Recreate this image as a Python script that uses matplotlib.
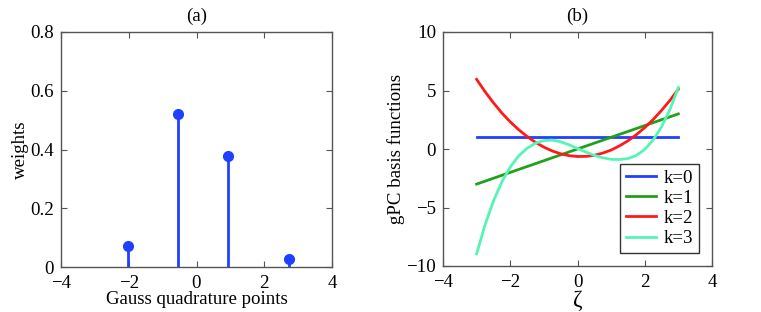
import numpy as np
import matplotlib
matplotlib.use("Agg")
import matplotlib.pyplot as plt

plt.rcParams['font.family'] = ['Liberation Serif', 'DejaVu Serif']
plt.rcParams['mathtext.fontset'] = 'stix'

# Panel (a): Gauss quadrature points and weights
quad_points = [-2.03, -0.56, 0.94, 2.73]
quad_weights = [0.073, 0.521, 0.378, 0.027]

# Panel (b): gPC basis functions
zeta = [-3.0, -2.75, -2.5, -2.25, -2.0, -1.75, -1.5, -1.25, -1.0, -0.75, -0.5, -0.25,
        0.0, 0.25, 0.5, 0.75, 1.0, 1.25, 1.5, 1.75, 2.0, 2.25, 2.5, 2.75, 3.0]
k0 = [1.0] * 25
k1 = [-3.0, -2.75, -2.5, -2.25, -2.0, -1.75, -1.5, -1.25, -1.0, -0.75, -0.5, -0.25,
      0.0, 0.25, 0.5, 0.75, 1.0, 1.25, 1.5, 1.75, 2.0, 2.25, 2.5, 2.75, 3.0]
k2 = [5.95, 4.9, 3.95, 3.08, 2.32, 1.65, 1.07, 0.57, 0.16, -0.17, -0.41, -0.57,
      -0.64, -0.63, -0.54, -0.35, -0.09, 0.27, 0.70, 1.22, 1.83, 2.52, 3.30, 4.16, 5.11]
k3 = [-8.96, -6.48, -4.45, -2.81, -1.54, -0.59, 0.06, 0.50, 0.72, 0.76, 0.62, 0.36,
      0.04, -0.26, -0.54, -0.75, -0.88, -0.90, -0.82, -0.55, -0.04, 0.77, 1.90, 3.39, 5.26]
labels = ['k=0', 'k=1', 'k=2', 'k=3']
colors = ['#2040ff', '#22a01c', '#ff1a1a', '#55f5b5']

fig = plt.figure(figsize=(7.61, 3.12), dpi=100)
ax1 = fig.add_axes([61/761, 45/312, 271/761, 235/312])
ax2 = fig.add_axes([443/761, 46/312, 269/761, 234/312])

spine_col = '#555555'
fs = 13.6

ml, sl, bl = ax1.stem(quad_points, quad_weights, basefmt=' ')
plt.setp(sl, color='#2040ff', linewidth=2)
plt.setp(ml, color='#2040ff', markersize=7)
ax1.set_xlim(-4, 4)
ax1.set_ylim(0, 0.8)
ax1.set_xticks([-4, -2, 0, 2, 4])
ax1.set_xticklabels(['\u22124', '\u22122', '0', '2', '4'])
ax1.set_yticks([0, 0.2, 0.4, 0.6, 0.8])
ax1.set_yticklabels(['0', '0.2', '0.4', '0.6', '0.8'])
ax1.set_xlabel('Gauss quadrature points', fontsize=fs, labelpad=-1)
ax1.set_ylabel('weights', fontsize=fs, labelpad=1)
ax1.set_title('(a)', fontsize=fs, pad=8)

for c, ys, lab in zip(colors, [k0, k1, k2, k3], labels):
    ax2.plot(zeta, ys, color=c, linewidth=2, label=lab)
ax2.set_xlim(-4, 4)
ax2.set_ylim(-10, 10)
ax2.set_xticks([-4, -2, 0, 2, 4])
ax2.set_xticklabels(['\u22124', '\u22122', '0', '2', '4'])
ax2.set_yticks([-10, -5, 0, 5, 10])
ax2.set_yticklabels(['\u221210', '\u22125', '0', '5', '10'])
ax2.set_xlabel('\u03b6', fontsize=fs + 3, labelpad=-1)
ax2.set_ylabel('gPC basis functions', fontsize=fs, labelpad=1)
ax2.set_title('(b)', fontsize=fs, pad=8)
leg = ax2.legend(loc='lower right', fontsize=fs, frameon=True, fancybox=False,
                 edgecolor='black', handlelength=1.6, borderpad=0.3,
                 labelspacing=0.15, handletextpad=0.4, borderaxespad=0.7)
leg.get_frame().set_linewidth(1.0)

for ax in (ax1, ax2):
    for s in ax.spines.values():
        s.set_color(spine_col)
        s.set_linewidth(1.0)
    ax.tick_params(direction='in', top=True, right=True, length=4, width=0.8,
                   color=spine_col, labelsize=fs)
    ax.tick_params(axis='x', pad=6)
    ax.tick_params(axis='y', pad=5)

fig.savefig('out.png', dpi=100)
